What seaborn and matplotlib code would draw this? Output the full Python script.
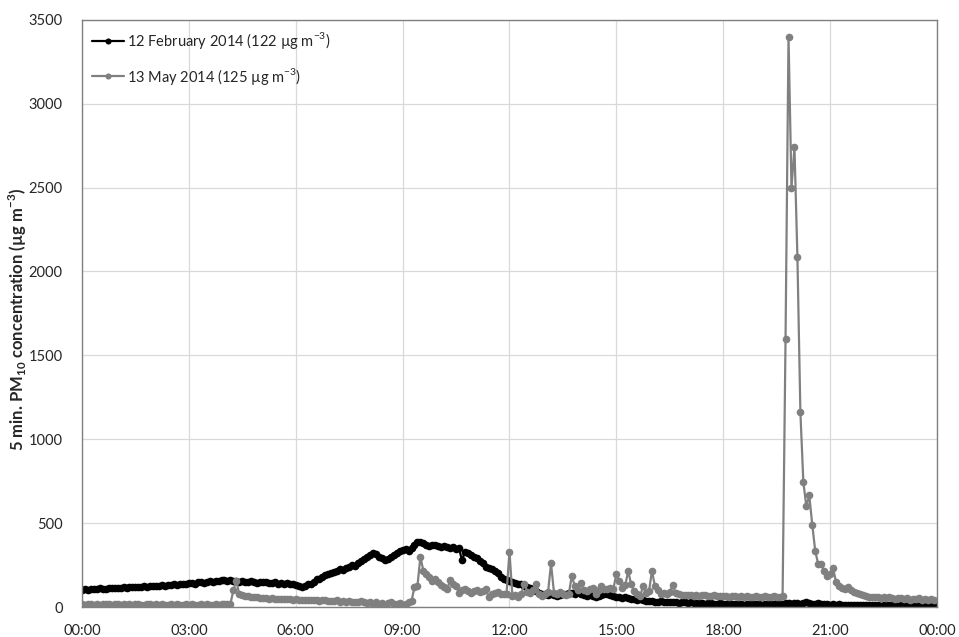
import matplotlib
matplotlib.use('Agg')
import matplotlib.pyplot as plt
import numpy as np
import pandas as pd
import seaborn as sns

# 5-minute PM10 readings, one row per hour (00:00 .. 23:55)
feb_12 = [
    100, 105, 103, 108, 110, 106, 112, 110, 108, 113, 115, 112,
    115, 112, 118, 116, 120, 117, 122, 120, 118, 124, 122, 126,
    125, 128, 124, 130, 128, 132, 130, 135, 133, 138, 136, 140,
    142, 145, 140, 148, 150, 146, 152, 155, 150, 158, 156, 160,
    162, 158, 160, 156, 155, 150, 158, 152, 148, 155, 150, 146,
    152, 148, 150, 145, 142, 148, 140, 144, 138, 142, 136, 140,
    130, 125, 120, 128, 135, 140, 150, 165, 170, 180, 190, 195,
    205, 210, 215, 225, 220, 235, 240, 250, 245, 265, 275, 285,
    300, 310, 320, 315, 300, 290, 280, 285, 300, 310, 325, 335,
    340, 345, 335, 350, 370, 385, 390, 380, 370, 365, 372, 368,
    365, 360, 362, 355, 350, 358, 345, 350, 280, 330, 320, 310,
    300, 290, 275, 260, 240, 235, 225, 215, 205, 180, 165, 160,
    155, 150, 145, 140, 135, 125, 118, 112, 105, 95, 85, 80,
    75, 72, 78, 70, 68, 72, 75, 80, 85, 82, 78, 88,
    75, 70, 68, 72, 65, 60, 65, 70, 75, 80, 72, 65,
    60, 58, 55, 60, 52, 50, 48, 45, 50, 42, 35, 38,
    35, 32, 30, 34, 28, 30, 32, 28, 30, 26, 28, 30,
    25, 28, 24, 22, 26, 24, 20, 22, 25, 18, 20, 22,
    20, 18, 22, 20, 16, 18, 20, 15, 18, 20, 16, 18,
    18, 15, 20, 18, 16, 20, 22, 18, 20, 24, 22, 20,
    22, 25, 20, 24, 28, 22, 20, 18, 22, 20, 16, 18,
    15, 18, 12, 16, 14, 12, 15, 10, 14, 12, 10, 12,
    12, 10, 14, 12, 10, 8, 12, 10, 14, 12, 10, 8,
    10, 12, 8, 10, 12, 10, 8, 12, 10, 8, 12, 10,
]

may_13 = [
    18, 15, 20, 16, 14, 18, 15, 17, 20, 16, 14, 18,
    16, 14, 18, 15, 17, 13, 16, 18, 14, 15, 17, 16,
    15, 18, 14, 16, 12, 15, 17, 14, 16, 13, 15, 18,
    14, 16, 12, 15, 18, 14, 16, 13, 15, 17, 14, 16,
    18, 16, 20, 100, 155, 75, 70, 68, 65, 62, 60, 58,
    55, 52, 54, 50, 52, 48, 50, 47, 49, 46, 48, 45,
    46, 44, 45, 42, 44, 40, 43, 41, 38, 42, 40, 37,
    38, 35, 40, 32, 36, 30, 34, 28, 32, 30, 35, 28,
    25, 30, 20, 28, 15, 25, 12, 22, 30, 18, 20, 25,
    15, 20, 28, 35, 120, 125, 300, 215, 195, 180, 155, 170,
    150, 130, 120, 105, 160, 140, 125, 85, 100, 110, 95, 85,
    95, 100, 90, 95, 110, 60, 80, 85, 90, 80, 75, 80,
    330, 65, 70, 58, 80, 140, 90, 85, 100, 140, 80, 65,
    75, 90, 260, 85, 80, 90, 75, 70, 80, 185, 125, 100,
    145, 100, 95, 110, 115, 75, 100, 125, 110, 105, 115, 110,
    195, 155, 115, 130, 215, 135, 95, 80, 65, 125, 85, 95,
    215, 125, 100, 80, 85, 80, 90, 130, 85, 75, 70, 72,
    70, 72, 68, 70, 66, 72, 70, 65, 68, 70, 66, 68,
    65, 68, 62, 66, 64, 60, 65, 62, 64, 60, 62, 65,
    62, 60, 64, 62, 58, 65, 60, 62, 65, 1600, 3400, 2500,
    2740, 2085, 1160, 745, 600, 665, 490, 335, 255, 255, 217, 187,
    200, 233, 150, 125, 115, 108, 118, 100, 88, 85, 75, 70,
    68, 62, 60, 58, 62, 55, 60, 52, 58, 55, 50, 55,
    52, 48, 55, 45, 50, 48, 52, 45, 50, 42, 48, 45,
]

series_labels = ['12 February 2014 (122 µg m$^{\\mathrm{-}3}$)',
                 '13 May 2014 (125 µg m$^{\\mathrm{-}3}$)']
series_colors = ['black', '#808080']
tick_hours = [0, 3, 6, 9, 12, 15, 18, 21, 24]
tick_labels = ['00:00', '03:00', '06:00', '09:00', '12:00',
               '15:00', '18:00', '21:00', '00:00']

hours = np.arange(len(feb_12)) * 5 / 60
df = pd.DataFrame({'hour': np.concatenate([hours, hours]),
                   'pm10': feb_12 + may_13,
                   'day': [series_labels[0]] * len(feb_12) + [series_labels[1]] * len(may_13)})

sns.set_style('whitegrid')
plt.rcParams['font.family'] = ['Lato', 'DejaVu Sans']
plt.rcParams['mathtext.fontset'] = 'custom'
plt.rcParams['mathtext.rm'] = 'Lato'
plt.rcParams['mathtext.bf'] = 'Lato:bold'
plt.rcParams['axes.unicode_minus'] = False

fig = plt.figure(figsize=(9.59, 6.37), dpi=100)
ax = fig.add_axes([0.0855, 0.047, 0.8915, 0.922])

sns.lineplot(data=df, x='hour', y='pm10', hue='day', palette=series_colors,
             marker='o', markersize=5.5, markeredgewidth=0, linewidth=1.6,
             ax=ax, legend=True)

ax.set_xlim(0, 24)
ax.set_ylim(0, 3500)
ax.set_xticks(tick_hours)
ax.set_xticklabels(tick_labels)
ax.set_yticks(range(0, 3501, 500))
ax.tick_params(axis='both', labelsize=10.5, length=0)
ax.tick_params(axis='x', pad=12)
ax.tick_params(axis='y', pad=14)
ax.grid(True, color='#d9d9d9', linewidth=0.9)
for s in ax.spines.values():
    s.set_color('#808080')
    s.set_linewidth(1.0)
ax.set_xlabel('')
ax.set_ylabel('5 min. PM$_{\\mathbf{10}}$ concentration (µg m$^{\\mathbf{-3}}$)',
              fontsize=12, fontweight='bold')
ax.yaxis.set_label_coords(-0.062, 0.49)

leg = ax.legend(loc='upper left', frameon=False, fontsize=10.5,
                handlelength=2.2, handletextpad=0.2, labelspacing=1.0,
                borderaxespad=0.3, markerscale=0.8)

fig.savefig('out.png', dpi=100)
